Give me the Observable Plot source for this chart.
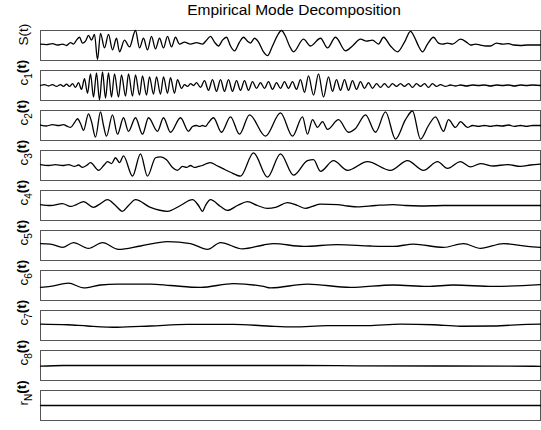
<!DOCTYPE html>
<html><head><meta charset="utf-8">
<script src="https://cdn.jsdelivr.net/npm/d3@7"></script>
<script src="https://cdn.jsdelivr.net/npm/@observablehq/plot@0.6"></script>
<style>
body{margin:0;background:#fff;font-family:"Liberation Sans",Arial,sans-serif;}
#wrap{position:relative;width:541px;height:430px;}
#title{position:absolute;left:44px;width:500px;top:1px;text-align:center;font-size:15.5px;color:#000;font-family:"Liberation Sans",Arial,sans-serif;}
</style></head><body>
<div id="wrap"><div id="title">Empirical Mode Decomposition</div><div id="chart"></div></div>
<script>
const names = ["S(t)","c1(t)","c2(t)","c3(t)","c4(t)","c5(t)","c6(t)","c7(t)","c8(t)","rN(t)"];

const S = [[0,1.5],[6,1],[12,2],[17,0.5],[22,1.5],[26,0],[30,3],[33,1.5],[36,5.5],[39,8.5],[42,2.5],[45,4.5],[48,10.5],[51,5.5],[54,11.5],[57,-14.5],[60,12.5],[64,-2.5],[68,11.5],[72,-4.5],[76,7.5],[79,-6.5],[84,5.5],[89,-1.5],[95,15.5],[99,-2.5],[103,7.5],[107,-4.5],[111,9.5],[115,-3.5],[119,7.5],[123,-2.5],[127,9.5],[131,-1.5],[135,8.5],[139,1.5],[144,3.5],[150,1.5],[156,3],[162,1.5],[166,5.5],[170,9.5],[174,3.5],[178,-0.5],[182,5.5],[186,8.5],[190,-0.5],[194,-5.5],[199,3.5],[203,8.5],[207,4.5],[210,2.5],[214,7.5],[218,3.5],[223,-6.5],[227,-10.5],[232,-0.5],[237,10.5],[241,15.5],[245,9.5],[249,-0.5],[253,-6.5],[263,6.5],[270,-0.5],[280,7.5],[287,-2.5],[295,8.5],[305,-5.5],[312,-0.5],[320,6.5],[326,4.5],[332,5.5],[338,1.5],[343,8.5],[350,-0.5],[357,-6.5],[364,3.5],[370,14.5],[374,8.5],[378,-0.5],[382,-6.5],[387,1.5],[393,8.5],[398,2.5],[402,1.5],[407,2.5],[412,1.5],[420,6.5],[426,3.5],[430,0.5],[435,1.5],[440,0.5],[445,-0.5],[450,-0.5],[456,2.5],[462,1.5],[468,2],[473,0.5],[480,0],[487,0.5],[493,0.5],[500,0.5]];

const C1 = [[0,0],[4,1],[8,-0.5],[12,1],[16,-1],[20,1],[23,-1],[26,1.5],[29,-1],[32,2],[35,-2],[38,3],[41,-4],[44,7],[47,-8],[50,12],[53,-12],[56,13],[59,-15],[62,14],[65,-13],[68,13],[71,-12],[74,12],[78,-12],[81,11],[85,-11],[88,12],[92,-11],[95,11],[99,-10],[102,10],[106,-10],[109,9],[113,-9],[116,9],[120,-9],[123,9],[127,-8],[130,8],[134,-8],[137,6],[141,-3],[144,1],[147,-1],[150,2],[153,0],[156,3],[160,-2],[164,5],[168,-5],[172,6],[176,-6],[180,6],[184,-6],[188,6],[192,-6],[196,5],[200,-5],[204,5],[208,-5],[212,4],[216,-3],[220,3],[224,-3],[228,4],[232,-4],[236,3],[240,-3],[244,4],[248,-3],[252,4],[256,-4],[260,6],[264,-7],[268,10],[273,-10],[278,12],[283,-12],[288,9],[292,-6],[296,6],[300,-5],[304,6],[308,-5],[312,5],[316,-4],[320,4],[324,-3],[328,3],[332,-3],[336,2],[340,-2],[344,2],[348,-2],[352,2],[356,-1],[360,2],[364,-1],[368,2],[372,-2],[376,2],[380,-1],[384,2],[388,-2],[392,2],[396,-1],[400,1],[405,-1],[410,0.5],[415,-0.5],[420,0.5],[426,-0.5],[432,0.5],[438,0],[444,0.5],[450,-0.5],[456,0.5],[462,0],[468,0.5],[474,-0.5],[480,0.5],[486,0],[492,0.5],[500,0]];

const C2 = [[0,0.5],[6,-0.5],[12,1],[18,0],[23,1],[27,-1],[30,-2],[34,3],[37,7],[40,2],[43,-5],[48,12],[51,4],[55,-12],[60,14],[63,0],[66,-11],[72,11],[77,-9],[83,8],[88,-6],[95,8],[102,-9],[108,8],[117,-6],[123,8],[130,-7],[140,8],[148,-6],[152,-1],[156,0],[159,-1],[162,0],[165,-1],[168,3],[173,8],[181,-7],[190,9],[199,-9],[209,11],[225,-11],[240,13],[252,-11],[262,9],[267,-9],[272,6],[277,-2],[282,4],[287,-4],[298,6],[308,-7],[315,-3],[325,11],[335,-7],[345,14],[355,-14],[365,6],[372,15],[380,-14],[388,0],[395,9],[403,-6],[408,6],[415,-2],[420,4],[427,-2],[432,0],[438,-1],[444,0],[450,-1],[456,0],[462,-0.5],[468,0.5],[474,-1],[480,0],[486,-1],[492,0],[500,0]];

const C3 = [[0,1],[8,0],[15,1],[22,0],[28,1],[34,-1],[38,0.5],[42,-2],[46,0],[50,3],[58,-5],[64,1],[67,4],[71,2],[75,8],[79,3],[83,10],[92,-11],[100,12],[107,-11],[115,8],[120,9],[126,6],[132,-2],[137,-5],[142,-1],[146,-2],[150,0],[154,-2],[158,-1],[162,0],[166,2],[170,3],[176,0],[182,-3],[190,-7],[200,-11],[213,13],[227,-12],[240,12],[253,-10],[267,5],[273,6],[280,-6],[293,5],[307,-5],[327,4],[350,-5],[367,5],[383,-5],[397,4],[407,-3],[420,4],[430,-1.5],[440,2],[453,-0.5],[467,1],[480,-1],[490,0.5],[500,1.5]];

const C4 = [[0,1],[10,0],[22,2],[30,-1],[36,1],[43,4],[53,-2],[60,2],[67,6],[75,0],[82,-6],[88,0],[95,6],[110,-2],[127,-6],[140,0],[152,6],[158,0],[162,-6],[165,0],[170,6],[180,-1],[187,-5],[197,0],[207,4],[217,0],[227,-3],[235,-2],[247,3],[257,0],[265,-3],[272,-1],[280,1.5],[297,1],[307,-0.5],[317,-1.5],[335,0],[353,1],[365,0],[380,-0.5],[403,0],[430,0],[460,0],[500,0]];

const C5 = [[0,2],[10,1.5],[22,-2],[33,3],[48,-3],[62,3],[78,-4],[100,-0.5],[127,4],[150,2],[167,-4],[180,3],[202,-3.5],[223,0.5],[233,2],[263,-1],[297,1],[330,-0.5],[353,-1],[373,1.5],[403,-2],[423,2],[440,-3],[463,2],[487,-1],[500,-2]];

const C6 = [[0,-2],[10,-1],[28,2.5],[43,-2.5],[60,0.5],[77,1.5],[110,1.5],[130,0],[160,-2],[193,2],[223,-1],[230,-2.5],[267,1.5],[310,-2],[353,0.5],[387,-1],[413,0.5],[453,-1],[500,1]];

const C7 = [[0,1.5],[27,0.8],[47,-0.5],[77,-1.8],[110,-0.5],[147,1.2],[193,1.2],[227,-0.5],[253,-1.5],[287,-0.2],[327,-0.2],[360,1.5],[393,0.8],[420,-0.8],[453,-0.5],[487,1.2],[500,1.5]];

const C8 = [[0,-0.7],[23,0],[260,0],[317,-0.3],[493,-0.8],[500,-1]];

const RN = [[0,0],[500,0]];

const series = [S, C1, C2, C3, C4, C5, C6, C7, C8, RN];

const rows = [];
names.forEach((n, i) => series[i].forEach(([t, v]) => rows.push({name: n, t, v})));

const plot = Plot.plot({
  width: 541, height: 430,
  marginTop: 26, marginBottom: 5, marginLeft: 40, marginRight: 1,
  x: {domain: [0, 500], axis: null},
  y: {domain: [-15.5, 15.5], axis: null},
  fy: {domain: names, paddingInner: 0.244, paddingOuter: 0, axis: null},
  style: {fontFamily: "'Liberation Sans', Arial, sans-serif", background: "#fff"},
  marks: [
    Plot.frame({stroke: "#555", strokeWidth: 1}),
    Plot.line(rows, {x: "t", y: "v", fy: "name", z: "name", curve: "monotone-x", stroke: "#000", strokeWidth: 1.3}),
    Plot.text(names, {fy: d => d, text: d => d, frameAnchor: "left", dx: -17, rotate: -90, fontSize: 13.5, fill: "#000"})
  ]
});

d3.select(plot).selectAll('g[aria-label="text"] text').each(function() {
  const s = this.textContent;
  const m = s.match(/^([A-Za-z])(\w*)\(t\)$/);
  if (!m) return;
  const el = d3.select(this);
  el.text(null);
  el.append("tspan").text(m[1]);
  if (m[2]) {
    el.append("tspan").attr("dy", "0.4em").attr("font-size", "0.75em").text(m[2]);
    el.append("tspan").attr("dy", "-0.4em").attr("font-weight", "bold").text("(t)");
  } else {
    el.append("tspan").text("(t)");
  }
});

document.getElementById("chart").appendChild(plot);
</script>
</body></html>
